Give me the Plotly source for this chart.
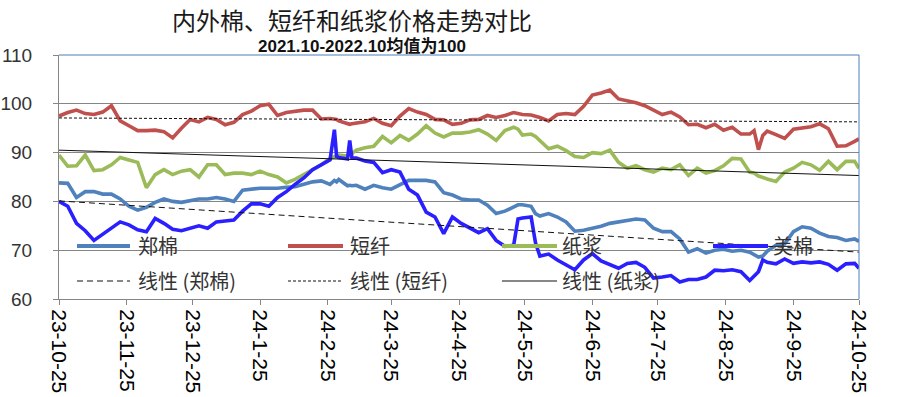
import plotly.graph_objects as go
import pandas as pd

# ---------------- data ----------------
start_date = pd.Timestamp("2023-10-25")
day_offset = [0, 4, 8, 12, 16, 20, 24, 28, 32, 36, 40, 44, 48, 52, 56, 60, 64, 68, 72, 76,
              80, 84, 88, 92, 96, 100, 104, 108, 112, 116, 120, 124, 126, 127, 128, 132, 133,
              134, 136, 140, 144, 148, 152, 156, 160, 164, 168, 172, 176, 180, 184, 188, 192,
              196, 200, 204, 208, 210, 212, 216, 218, 220, 224, 228, 232, 236, 240, 244, 248,
              252, 256, 260, 264, 268, 272, 276, 280, 284, 288, 292, 296, 300, 304, 308, 312,
              316, 318, 320, 322, 324, 328, 332, 336, 340, 344, 348, 352, 356, 360, 364, 366]

zhengmian = [83.8, 83.7, 80.8, 82.0, 82.0, 81.5, 81.5, 80.5, 79.0, 78.2, 78.8, 79.8, 80.5, 80.0,
             79.8, 80.2, 80.5, 80.5, 80.8, 80.5, 80.0, 82.3, 82.5, 82.7, 82.7, 82.7, 82.9, 83.0,
             83.5, 84.0, 84.2, 83.5, 84.3, 84.0, 84.5, 83.2, 83.3, 83.2, 83.3, 82.5, 83.3, 82.8,
             82.5, 83.5, 84.3, 84.3, 84.3, 84.0, 81.8, 81.3, 80.5, 80.3, 80.3, 79.2, 77.5, 78.0,
             79.0, 79.3, 79.3, 79.0, 77.5, 77.0, 77.5, 76.8, 75.8, 73.9, 74.1, 74.5, 74.9, 75.5,
             75.8, 76.2, 76.4, 76.2, 74.5, 73.8, 73.8, 72.3, 69.6, 70.3, 69.4, 70.0, 70.2, 69.8,
             70.0, 69.6, 69.2, 68.6, 68.8, 69.8, 71.0, 71.3, 73.8, 74.8, 74.5, 73.5, 72.8, 72.6,
             72.0, 72.3, 71.8]

duanxian = [97.5, 98.2, 98.7, 98.0, 97.8, 98.3, 99.6, 96.5, 95.5, 94.5, 94.5, 94.6, 94.3, 93.0,
            95.0, 96.8, 96.3, 97.2, 96.8, 95.7, 96.2, 97.8, 98.5, 99.6, 99.9, 97.6, 98.2, 98.4,
            98.7, 98.7, 96.9, 97.0, 96.8, 96.8, 96.5, 96.0, 95.8, 95.9, 96.0, 96.3, 97.0, 96.0,
            95.5, 97.5, 99.0, 98.3, 97.8, 96.8, 96.7, 95.8, 96.0, 96.7, 96.8, 97.6, 97.2, 97.6,
            98.2, 98.0, 97.8, 97.7, 97.5, 97.2, 96.5, 97.8, 98.0, 97.8, 99.5, 101.8, 102.2, 102.8,
            101.0, 100.6, 100.2, 99.6, 98.7, 97.8, 98.3, 97.3, 95.7, 95.8, 95.1, 95.8, 94.6, 95.2,
            93.8, 93.8, 94.5, 90.6, 93.5, 94.4, 93.7, 92.9, 94.8, 95.1, 95.3, 95.9, 94.9, 91.3,
            91.4, 92.3, 92.8]

zhijiang = [89.5, 87.2, 87.3, 89.5, 86.3, 86.5, 87.5, 89.0, 88.5, 88.0, 82.8, 85.5, 86.5, 85.5,
            86.2, 86.5, 85.0, 87.5, 87.5, 85.5, 85.8, 85.8, 85.5, 86.2, 85.5, 85.0, 83.8, 84.5,
            85.5, 86.5, 87.5, 88.8, 89.2, 89.5, 89.5, 89.3, 89.5, 89.8, 90.5, 91.0, 91.3, 93.3,
            92.0, 93.5, 92.5, 93.8, 95.5, 94.0, 93.2, 94.0, 94.0, 94.2, 94.7, 93.8, 92.5, 94.5,
            95.2, 94.8, 93.6, 93.8, 93.3, 92.5, 90.8, 91.3, 90.4, 89.2, 89.0, 90.0, 89.8, 90.5,
            88.0, 86.8, 87.3, 86.5, 86.0, 86.8, 86.5, 87.5, 85.3, 86.8, 85.8, 86.3, 87.3, 88.8,
            88.7, 86.0, 85.8, 85.2, 84.8, 84.6, 84.1, 86.0, 86.8, 88.0, 87.5, 86.4, 88.2, 86.5,
            88.2, 88.2, 86.8]

meimian = [80.0, 79.0, 75.5, 74.0, 72.0, 73.2, 74.5, 75.8, 75.2, 74.2, 73.8, 76.5, 75.5, 74.3,
           74.0, 74.5, 75.0, 74.5, 75.8, 76.0, 76.2, 78.0, 79.5, 79.5, 79.0, 80.8, 82.0, 83.5,
           84.8, 86.5, 87.5, 88.5, 94.7, 89.2, 89.0, 88.7, 92.5, 88.9, 88.9, 88.3, 88.0, 85.9,
           86.5, 86.0, 82.5, 81.3, 77.8, 76.8, 73.4, 76.8, 75.5, 74.6, 73.6, 74.4, 72.0, 70.8,
           71.0, 76.4, 76.6, 76.8, 71.5, 68.8, 69.2, 68.0, 67.0, 66.0, 68.0, 69.3, 67.8, 67.0,
           66.3, 67.3, 67.5, 66.5, 64.3, 64.5, 64.8, 63.5, 64.0, 64.0, 64.5, 65.9, 65.8, 66.0,
           65.6, 63.8, 64.6, 65.6, 68.0, 67.5, 67.2, 68.2, 67.3, 67.6, 67.4, 67.6, 67.1, 65.9,
           67.2, 67.3, 66.3]

series_names = ["郑棉", "短纤", "纸浆", "美棉"]
series_colors = ["#4F81BD", "#C0504D", "#9BBB59", "#2A1FFF"]

trend_names = ["线性 (郑棉)", "线性 (短纤)", "线性 (纸浆)"]
trend_start = [80.1, 97.1, 90.5]
trend_end = [69.6, 96.3, 85.3]
trend_dash = ["6px,4px", "3px,2px", "solid"]

tick_dates = ["2023-10-25", "2023-11-25", "2023-12-25", "2024-01-25", "2024-02-25",
              "2024-03-25", "2024-04-25", "2024-05-25", "2024-06-25", "2024-07-25",
              "2024-08-25", "2024-09-25", "2024-10-25"]
tick_labels = ["23-10-25", "23-11-25", "23-12-25", "24-1-25", "24-2-25", "24-3-25",
               "24-4-25", "24-5-25", "24-6-25", "24-7-25", "24-8-25", "24-9-25", "24-10-25"]

title_text = "内外棉、短纤和纸浆价格走势对比"
subtitle_text = "2021.10-2022.10均值为100"

# ---------------- figure ----------------
series_values = [zhengmian, duanxian, zhijiang, meimian]
for v in series_values:
    assert len(v) == len(day_offset), len(v)

dates = [start_date + pd.Timedelta(days=d) for d in day_offset]

W, H = 907, 397
PLOT_X0, PLOT_X1, PLOT_Y0, PLOT_Y1 = 59, 859, 55, 299   # plot area in pixels
L, T = PLOT_X0, PLOT_Y0
R, B = W - PLOT_X1, H - PLOT_Y1
PW, PH = PLOT_X1 - PLOT_X0, PLOT_Y1 - PLOT_Y0


def px(x):
    return (x - PLOT_X0) / PW


def py(y):
    return (PLOT_Y1 - y) / PH


CJK = "Noto Sans CJK SC"
LAT = "Liberation Sans, Arial, Noto Sans CJK SC"

fig = go.Figure()
for name, vals, col in zip(series_names, series_values, series_colors):
    fig.add_trace(go.Scatter(x=dates, y=vals, name=name, mode="lines",
                             line=dict(color=col, width=3.6), showlegend=False))

for name, y0, y1, dash in zip(trend_names, trend_start, trend_end, trend_dash):
    fig.add_trace(go.Scatter(x=[dates[0], dates[-1]], y=[y0, y1], name=name, mode="lines",
                             line=dict(color="#111111", width=1, dash=dash), showlegend=False))

shapes = [
    dict(type="line", xref="paper", yref="paper", x0=0, x1=1, y0=1, y1=1,
         line=dict(color="#4A7EBB", width=1), layer="above"),
    dict(type="line", xref="paper", yref="paper", x0=1, x1=1, y0=0, y1=1,
         line=dict(color="#4A7EBB", width=1), layer="above"),
]

annotations = [
    dict(text=title_text, xref="paper", yref="paper", x=px(352), y=py(19.5),
         xanchor="center", yanchor="middle", showarrow=False,
         font=dict(family=CJK, size=24, color="#1a1a1a")),
    dict(text="<b>" + subtitle_text + "</b>", xref="paper", yref="paper", x=px(362), y=py(47),
         xanchor="center", yanchor="middle", showarrow=False,
         font=dict(family=LAT, size=17, color="#111111")),
]

# legend (drawn inside the plot area like the original)
row1_y, row2_y = 246, 281
col_x = [(77, 130, 136), (288, 343, 348), (502, 557, 560), (713, 768, 771)]
legend_font = dict(family=CJK, size=20, color="#333333")
for i, (name, col) in enumerate(zip(series_names, series_colors)):
    x0, x1, xt = col_x[i]
    shapes.append(dict(type="line", xref="paper", yref="paper", x0=px(x0), x1=px(x1),
                       y0=py(row1_y), y1=py(row1_y), line=dict(color=col, width=4),
                       layer="above"))
    annotations.append(dict(text=name, xref="paper", yref="paper", x=px(xt), y=py(row1_y - 1),
                            xanchor="left", yanchor="middle", showarrow=False, font=legend_font))
for i, (name, dash) in enumerate(zip(trend_names, trend_dash)):
    x0, x1, xt = col_x[i]
    shapes.append(dict(type="line", xref="paper", yref="paper", x0=px(x0), x1=px(x1),
                       y0=py(row2_y), y1=py(row2_y),
                       line=dict(color="#111111", width=1, dash=dash), layer="above"))
    annotations.append(dict(text=name, xref="paper", yref="paper", x=px(xt), y=py(row2_y - 1),
                            xanchor="left", yanchor="middle", showarrow=False, font=legend_font))

fig.update_layout(
    width=W, height=H,
    margin=dict(l=L, r=R, t=T, b=B, pad=0, autoexpand=False),
    paper_bgcolor="white", plot_bgcolor="white",
    showlegend=False,
    shapes=shapes, annotations=annotations,
    xaxis=dict(
        range=[dates[0], dates[-1]], tickmode="array", tickvals=tick_dates, ticktext=tick_labels,
        tickangle=90, showgrid=False, zeroline=False, showline=True, linecolor="#868686",
        linewidth=1, ticks="outside", ticklen=5, tickcolor="#868686", tickwidth=1,
        tickfont=dict(family=LAT, size=21, color="#000000"), ticklabelstandoff=0,
        automargin=False,
    ),
    yaxis=dict(
        range=[60, 110], dtick=10, tick0=60, showgrid=True, gridcolor="#868686", gridwidth=1,
        zeroline=False, showline=True, linecolor="#868686", linewidth=1, ticks="outside",
        ticklen=5, tickcolor="#868686", tickwidth=1,
        tickfont=dict(family=LAT, size=19, color="#333333"), ticklabelstandoff=17,
        automargin=False,
    ),
)

# remove the browser's default 8px page margin so the figure fills the window exactly
fig.write_html("out.html", config={"displayModeBar": False},
               post_script="document.body.style.margin='0';")
